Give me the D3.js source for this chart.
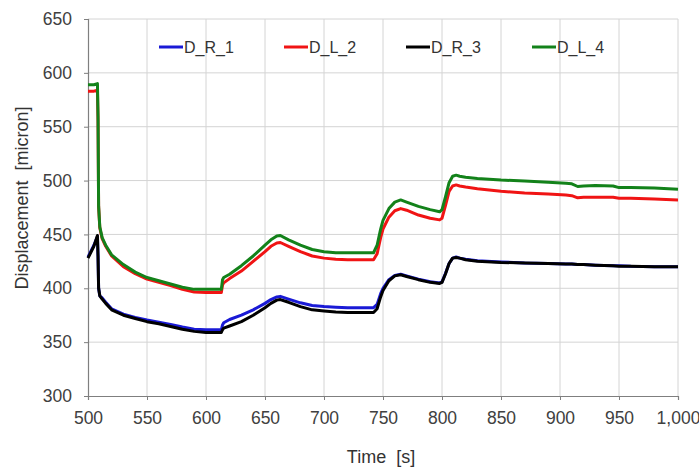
<!DOCTYPE html>
<html>
<head>
<meta charset="utf-8">
<script src="https://cdn.jsdelivr.net/npm/d3@7"></script>
<style>
  html, body { margin: 0; padding: 0; background: #fff; }
  svg { display: block; font-family: "Liberation Sans", Arial, sans-serif; }
</style>
</head>
<body>
<svg id="chart" width="699" height="470"></svg>
<script>
// ---- data ----
const time = [500,505,508,508.5,509,510,512,515,520,530,540,550,560,570,580,590,600,610,613,614,615,620,630,640,650,655,660,663,670,680,690,700,710,720,730,740,742,745,748,750,755,760,765,770,780,790,798,800,803,806,809,812,815,820,830,850,870,890,905,910,915,920,930,945,950,960,980,1000];

const D_R_1 = [429,440,448,430,400,393,391,387,381,376,373,370.5,368.5,366.5,364,362,361.5,361.5,361.5,366,368,371,375,380,386,389.5,392,392.5,390,386.5,384,383,382.5,382,382,382,382,385,395,400,408,412,413,411.5,408.5,406,405,406,414,423,428,429,428,427,425.5,424.5,423.5,423,422.5,422.5,422,422,421.5,421,421,420.5,420,420];

const D_L_2 = [583,583,584,556,476,456,446,439,430,420,413.5,408.5,405.5,402.5,399,396.5,396,396,396,403,405,409,416,425,434,439,442,442.5,439,434,430,428,427,426.5,426.5,426.5,426.5,432,447,455,466,472,474,472.5,468,465,463.5,465,477,490,495,496,495,494,492.5,490,488.5,487.5,486.5,486,484,484.5,484.5,484.5,483.5,483.5,483,482];

const D_R_3 = [428,439,449,430,400,393,390,386,380,375,372,369,367,364.5,362,360,359,359,359,361.5,363,365,369,375,382,386,389,389.5,387,383,380,379,378,377.5,377.5,377.5,377.5,381,392,398,407,411.5,412.5,411,408,405.5,404.5,405.5,413.5,423,428,428.5,428,426.5,425,424,423.5,423,422.5,422.5,422,422,421.5,421,420.5,420.5,420,420];

const D_L_4 = [589,589,590,560,476,457,447,440,431,422,415,410,407,404,401,399,399,399,399,408,410,413,421,430,440,445,448.5,449,445,440,436,434,433,433,433,433,433,440,455,463,474,480,482,480,476,473,471,473,485,498,504,505,504,503,502,500.5,499.5,498.5,497.5,497,494.5,495,495.5,495,493.5,493.5,493,492];

const seriesNames = ["D_R_1", "D_L_2", "D_R_3", "D_L_4"];
const seriesValues = [D_R_1, D_L_2, D_R_3, D_L_4];
const seriesColors = ["#1a1ad6", "#f01414", "#000000", "#13821a"];

const xTicks = [500,550,600,650,700,750,800,850,900,950,1000];
const yTicks = [300,350,400,450,500,550,600,650];
const xTitle = "Time  [s]";
const yTitle = "Displacement  [micron]";

// ---- layout ----
const svg = d3.select("#chart");
const mLeft = 88, mRight = 678, mTop = 19, mBottom = 396;

const x = d3.scaleLinear().domain([500, 1000]).range([mLeft, mRight]);
const y = d3.scaleLinear().domain([300, 650]).range([mBottom, mTop]);

// gridlines
const grid = svg.append("g");
grid.selectAll("line.v").data(xTicks.slice(1)).join("line")
  .attr("x1", d => x(d)).attr("x2", d => x(d))
  .attr("y1", mTop).attr("y2", mBottom)
  .attr("stroke", "#d4d4d4").attr("stroke-width", 1);
grid.selectAll("line.h").data(yTicks.slice(1)).join("line")
  .attr("x1", mLeft).attr("x2", mRight)
  .attr("y1", d => y(d)).attr("y2", d => y(d))
  .attr("stroke", "#d4d4d4").attr("stroke-width", 1);

// axes
const xAxis = svg.append("g").attr("transform", `translate(0,${mBottom})`)
  .call(d3.axisBottom(x).tickValues(xTicks).tickFormat(d3.format(",")).tickSize(4).tickPadding(12));
const yAxis = svg.append("g").attr("transform", `translate(${mLeft},0)`)
  .call(d3.axisLeft(y).tickValues(yTicks).tickSize(4).tickPadding(12));

[xAxis, yAxis].forEach(a => {
  a.select(".domain").attr("stroke", "#7f7f7f").attr("stroke-width", 1.2);
  a.selectAll(".tick line").attr("stroke", "#7f7f7f");
  a.selectAll(".tick text").attr("fill", "#404040")
    .style("font-size", "17.5px").style("font-family", "'Liberation Sans', Arial, sans-serif");
});

// lines
const line = d3.line()
  .x((d, i) => x(time[i]))
  .y(d => y(d));

svg.append("g").selectAll("path").data(seriesValues).join("path")
  .attr("d", d => line(d))
  .attr("fill", "none")
  .attr("stroke", (d, i) => seriesColors[i])
  .attr("stroke-width", 3)
  .attr("stroke-linejoin", "round");

// legend
const legendX = [159, 284, 406, 532];
const leg = svg.append("g");
seriesNames.forEach((name, i) => {
  const g = leg.append("g").attr("transform", `translate(${legendX[i]},47)`);
  g.append("line").attr("x1", 0).attr("x2", 24).attr("y1", 0).attr("y2", 0)
    .attr("stroke", seriesColors[i]).attr("stroke-width", 3);
  g.append("text").attr("x", 25).attr("y", 0).attr("dy", "0.36em")
    .attr("fill", "#333").style("font-size", "16px").text(name);
});

// titles
svg.append("text")
  .attr("x", (mLeft + mRight) / 2 - 2).attr("y", 463)
  .attr("text-anchor", "middle").attr("fill", "#333")
  .style("font-size", "18px").style("white-space", "pre")
  .text(xTitle);

svg.append("text")
  .attr("transform", `translate(28,198) rotate(-90)`)
  .attr("text-anchor", "middle").attr("fill", "#333")
  .style("font-size", "18px").style("white-space", "pre")
  .text(yTitle);
</script>
</body>
</html>
